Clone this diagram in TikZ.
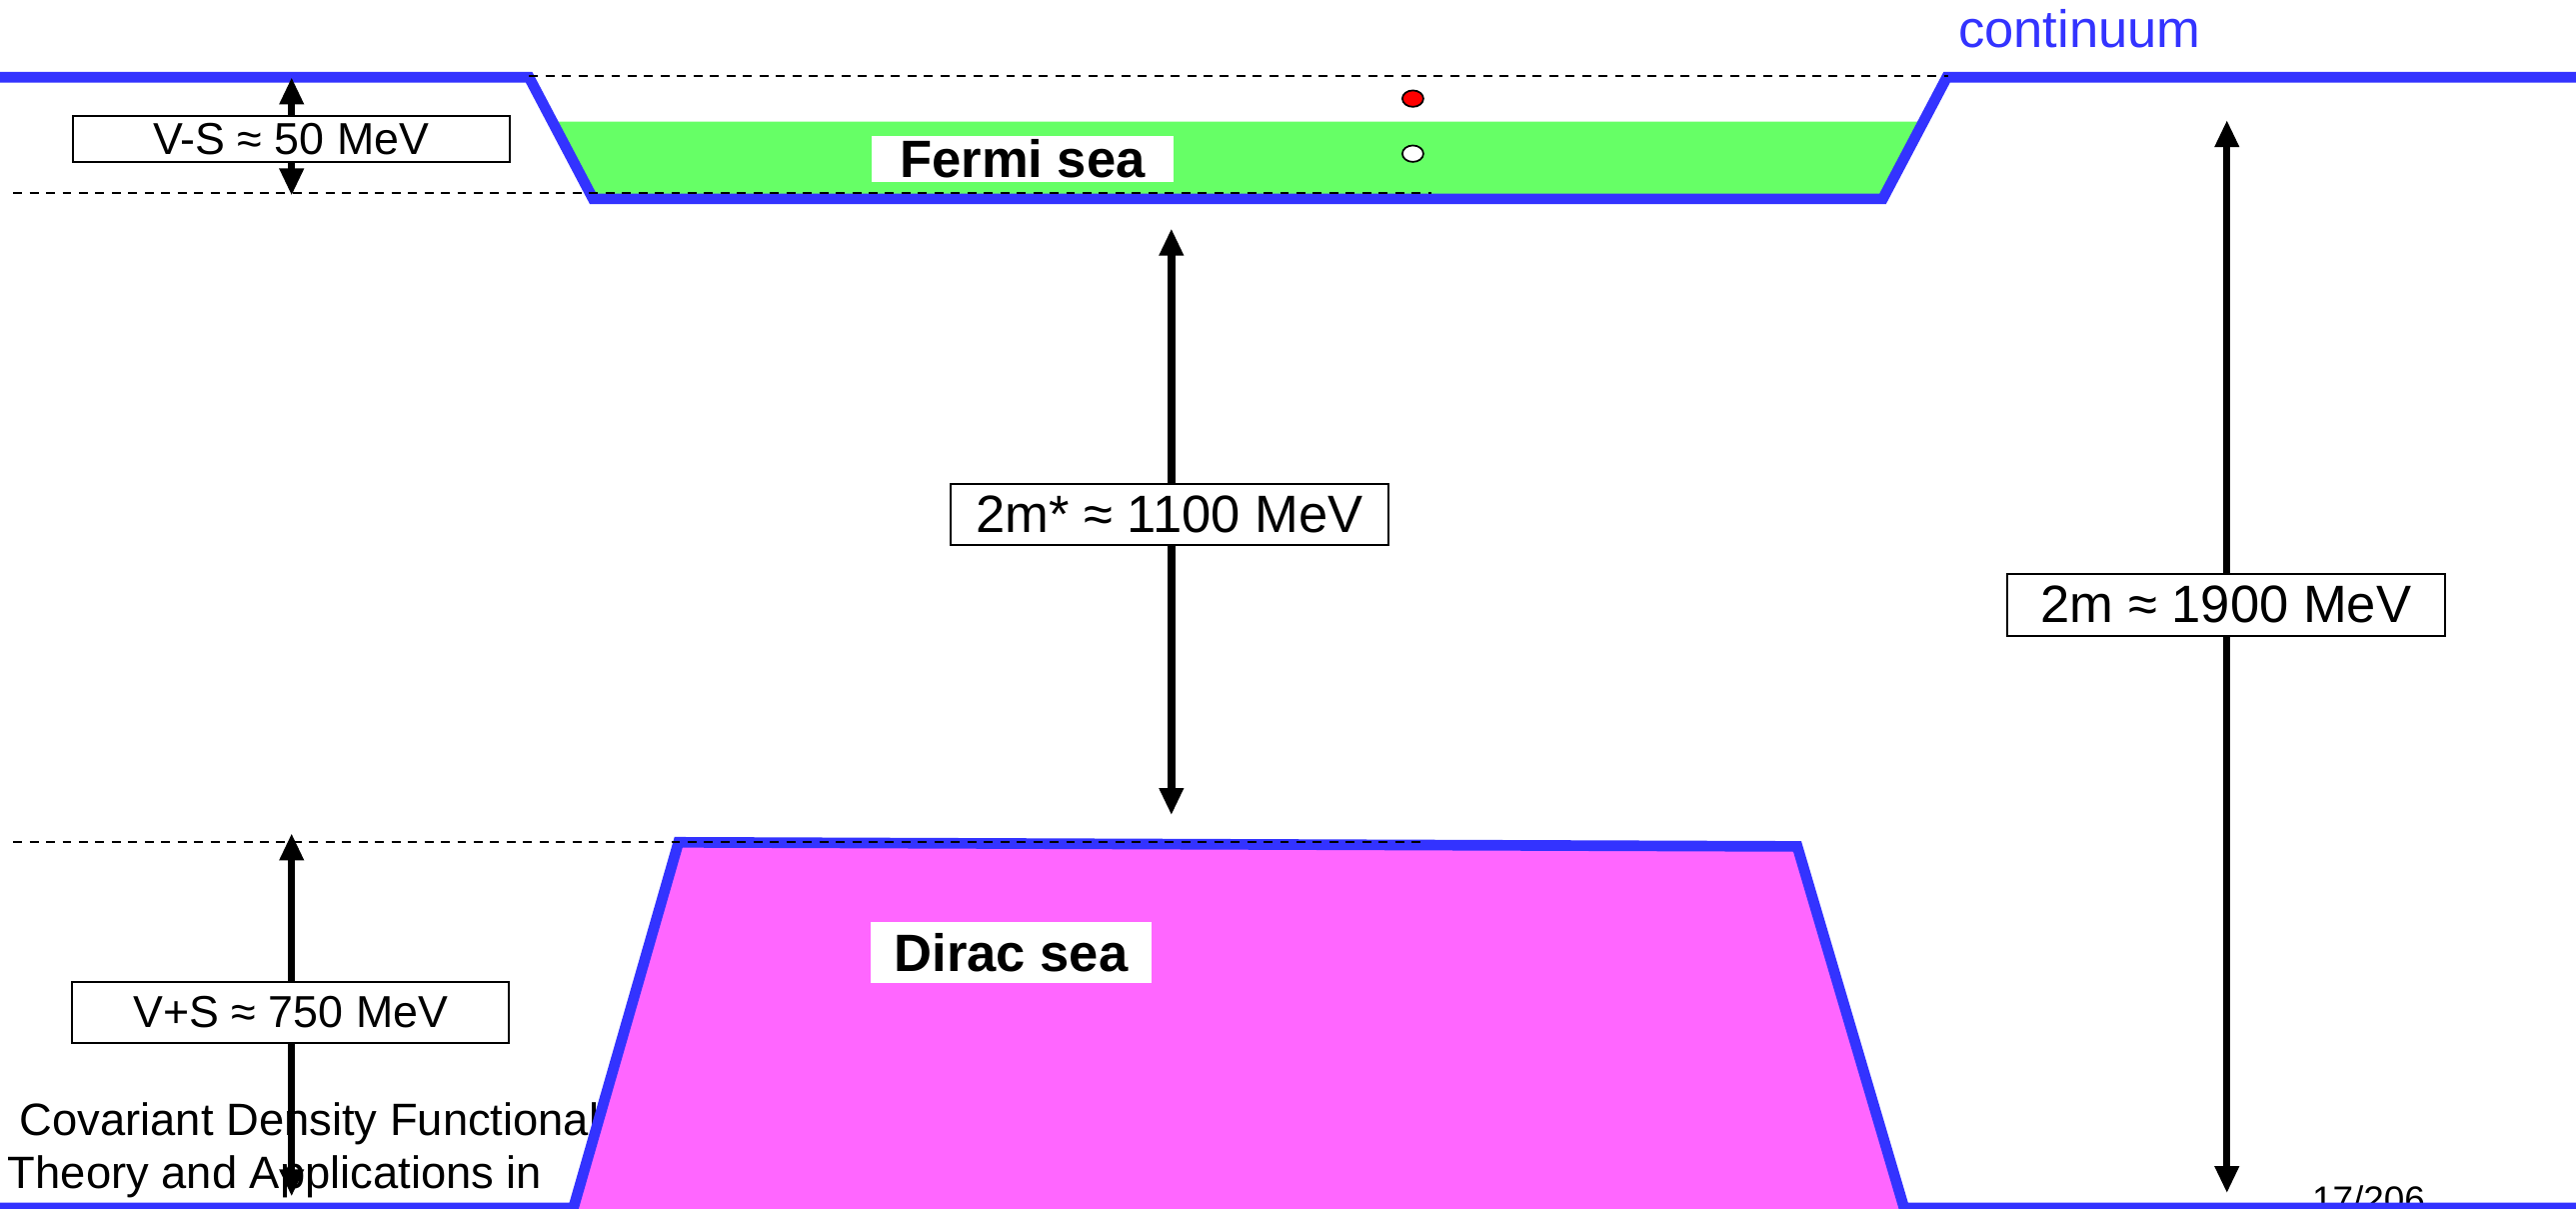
\documentclass[tikz,border=0pt]{standalone}
\usepackage{fontspec}
\setmainfont{Liberation Sans}
\usetikzlibrary{arrows.meta,shapes.geometric}
\definecolor{lineblue}{HTML}{3333FF}
\definecolor{fermigreen}{HTML}{66FF66}
\definecolor{diracpink}{HTML}{FF66FF}
\begin{document}
\begin{tikzpicture}[x=0.02cm,y=-0.02cm,
  wall/.style={draw=lineblue,line width=3.7pt},
  dashline/.style={draw=black,line width=0.7pt,dash pattern=on 3.1pt off 2.6pt},
  dimarrow/.style={draw=black,line width=2.56pt,
    {Triangle[length=0.33cm,width=0.28cm]}-{Triangle[length=0.33cm,width=0.28cm]}},
  valuebox/.style={draw=black,line width=0.7pt,fill=white,inner sep=0pt,minimum width=5.32cm},
  bigtext/.style={font=\fontsize{18.2}{21}\selectfont},
  smalltext/.style={font=\fontsize{15.5}{18}\selectfont},
  sealabel/.style={fill=white,inner sep=0pt,font=\fontsize{18.2}{21}\selectfont\bfseries},
  plaintext/.style={inner sep=0pt,anchor=base west,font=\fontsize{15.7}{18}\selectfont},
  level/.style={ellipse,draw=black,line width=0.6pt,minimum width=0.256cm,minimum height=0.2cm,inner sep=0pt}
]
\useasboundingbox (0,0) rectangle (1568,735.6);
\clip (0,0) rectangle (1568,735.6);

% Fermi sea fill
\fill[fermigreen] (336.2,74) -- (1170.8,74) -- (1146,121) -- (361,121) -- cycle;

% footer texts (behind the drawing)
\node[plaintext] (title1) at (11.7,690.6) {Covariant Density Functional};
\node[plaintext] (title2) at (4.5,723) {Theory and Applications in};
\node[plaintext,font=\fontsize{12.8}{15}\selectfont] (page) at (1407,738) {17/206};

% Dirac sea fill
\fill[diracpink] (347,745) -- (413,512.5) -- (1094,515) -- (1162,745) -- cycle;

% potential walls
\draw[wall] (-5,47) -- (322,47) -- (361,121) -- (1146,121) -- (1185,47) -- (1575,47);
\draw[wall] (-5,735) -- (349,735) -- (413,512.5) -- (1094,515) -- (1159,735) -- (1575,735);

% dashed reference levels
\draw[dashline] (322,46) -- (1186,46);
\draw[dashline] (8,117.5) -- (871,117.5);
\draw[dashline] (8,512.5) -- (869,512.5);

% particle and hole
\node[level,fill=red] (particle) at (860,60) {};
\node[level,fill=white] (hole) at (860,93.5) {};

% dimension arrows
\coordinate (vsTop) at (177.5,47);
\coordinate (vsBot) at (177.5,119);
\coordinate (vpsTop) at (177.5,507);
\coordinate (vpsBot) at (177.5,728);
\coordinate (msTop) at (713,139);
\coordinate (msBot) at (713,496);
\coordinate (mTop) at (1355.5,73);
\coordinate (mBot) at (1355.5,726);
\draw[dimarrow] (vsTop) -- (vsBot);
\draw[dimarrow] (vpsTop) -- (vpsBot);
\draw[dimarrow] (msTop) -- (msBot);
\draw[dimarrow] (mTop) -- (mBot);

% value boxes
\node[valuebox,smalltext,minimum height=0.568cm] (vs) at (177.2,84.6) {V-S ≈ 50 MeV};
\node[valuebox,smalltext,minimum height=0.744cm] (vps) at (177,616) {V+S ≈ 750 MeV};
\node[valuebox,bigtext,minimum width=5.33cm,minimum height=0.752cm] (mstar) at (711.8,313) {2m* ≈ 1100 MeV};
\node[valuebox,bigtext,minimum height=0.76cm] (mfull) at (1355,368) {2m ≈ 1900 MeV};

% sea labels
\node[sealabel,minimum width=3.68cm,minimum height=0.554cm] (fermi) at (622.4,96.7) {Fermi sea};
\node[sealabel,minimum width=3.42cm,minimum height=0.74cm] (dirac) at (615.5,579.5) {Dirac sea};

% continuum
\node[inner sep=0pt,anchor=base west,text=lineblue,font=\fontsize{18.2}{21}\selectfont] (cont) at (1191.7,29) {continuum};
\end{tikzpicture}
\end{document}
